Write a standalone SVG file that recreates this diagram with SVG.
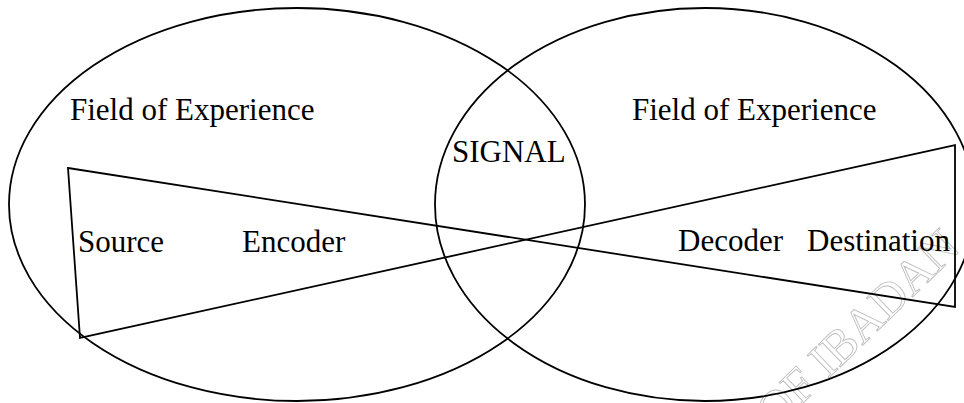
<svg xmlns="http://www.w3.org/2000/svg" width="964" height="403" viewBox="0 0 964 403">
  <style>
    .outline { fill: none; stroke: #000; stroke-width: 1.8; }
    .label { font-size: 31px; fill: #000; }
    .mark { font-size: 48px; fill: none; stroke: #bdbdbd; stroke-width: 0.9; }
  </style>
  <rect width="964" height="403" fill="#fff"/>

  <!-- faint library stamp -->
  <text class="mark" font-family="Liberation Serif, DejaVu Serif, serif" transform="translate(775,430) rotate(-44)">OF IBADAN</text>

  <g font-family="Liberation Serif, DejaVu Serif, serif">
    <!-- sender's field of experience -->
    <g id="field-source">
      <ellipse class="outline" cx="297" cy="204.5" rx="288" ry="196.5"/>
      <text class="label" x="70" y="120">Field of Experience</text>
    </g>

    <!-- receiver's field of experience -->
    <g id="field-destination">
      <ellipse class="outline" cx="705" cy="204.5" rx="270" ry="196.5"/>
      <text class="label" x="632" y="120">Field of Experience</text>
    </g>

    <!-- shared region -->
    <g id="signal">
      <text class="label" x="452" y="162">SIGNAL</text>
    </g>

    <g id="source"><text class="label" x="78" y="252">Source</text></g>
    <g id="encoder"><text class="label" x="242" y="252">Encoder</text></g>
    <g id="decoder"><text class="label" x="678" y="251">Decoder</text></g>
    <g id="destination"><text class="label" x="807" y="251">Destination</text></g>
  </g>

  <!-- crossed transmission paths -->
  <g id="connectors">
    <polygon class="outline" stroke-linejoin="miter" points="68,168 955,307 955,145 80,338"/>
  </g>
</svg>
